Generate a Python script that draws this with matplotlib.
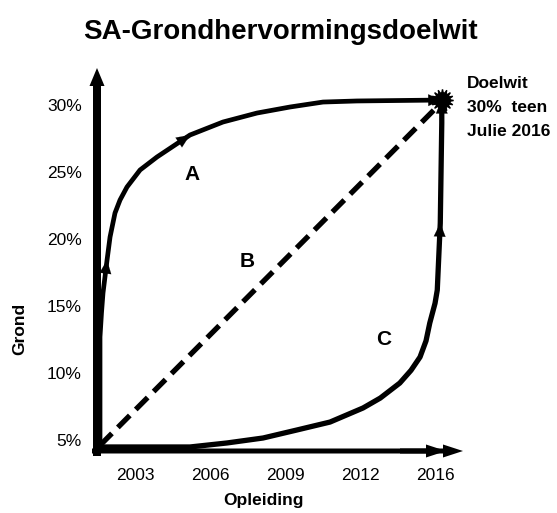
import matplotlib
matplotlib.use("Agg")
import matplotlib.pyplot as plt
from matplotlib.patches import FancyArrow
from matplotlib.transforms import IdentityTransform

plt.rcParams['font.family'] = ['Liberation Sans', 'DejaVu Sans']

# ---- data ----
x_tick_pos = [0, 1, 2, 3, 4]
x_tick_labels = ['2003', '2006', '2009', '2012', '2016']
y_tick_pos = [5, 10, 15, 20, 25, 30]
y_tick_labels = ['5%', '10%', '15%', '20%', '25%', '30%']

path_a_x = [-0.467, -0.467, -0.447, -0.427, -0.373, -0.333, -0.267, -0.2, -0.107, 0.067, 0.293,
            0.733, 1.173, 1.627, 2.067, 2.507, 2.96, 4.09]
path_a_y = [5.0, 12.69, 14.5, 15.97, 18.43, 20.15, 21.94, 22.91, 23.88, 25.15, 26.12,
            27.76, 28.73, 29.40, 29.85, 30.22, 30.30, 30.37]

path_b_x = [-0.467, 4.07]
path_b_y = [4.6, 30.1]

path_c_x = [-0.467, 0.733, 1.227, 1.707, 2.16, 2.6, 3.04, 3.27, 3.53, 3.68, 3.8, 3.88, 3.93,
            4.0, 4.03, 4.07, 4.09, 4.09]
path_c_y = [4.48, 4.48, 4.78, 5.15, 5.75, 6.34, 7.39, 8.13, 9.25, 10.2, 11.19, 12.4, 13.73,
            15.2, 16.19, 21.19, 28.66, 30.37]

target_x, target_y = 4.09, 30.37
labels = ['A', 'B', 'C']
label_x = [0.76, 1.49, 3.31]
label_y = [24.8, 18.3, 12.5]

# ---- figure ----
W, H = 557, 513
fig = plt.figure(figsize=(W / 100, H / 100), dpi=100)
ax = fig.add_axes([97 / W, (H - 451) / H, 366 / W, 383 / H])
ax.set_xlim(-0.507, 4.373)
ax.set_ylim(4.18, 32.76)
for s in ax.spines.values():
    s.set_visible(False)

ax.set_xticks(x_tick_pos)
ax.set_xticklabels(x_tick_labels, fontsize=12.5)
ax.set_yticks(y_tick_pos)
ax.set_yticklabels(y_tick_labels, fontsize=12.5)
ax.tick_params(axis='x', length=0, pad=12)
ax.tick_params(axis='y', length=0, pad=11)

# axis arrows (pixel geometry)
def parrow(x0, y0, x1, y1, width, hw, hl):
    fig.add_artist(FancyArrow(x0, H - y0, x1 - x0, -(y1 - y0), width=width,
                              head_width=hw, head_length=hl, length_includes_head=True,
                              color='black', lw=0, transform=IdentityTransform()))

parrow(97, 456, 97, 68, 8, 15, 18)
parrow(92, 451, 463, 451, 5, 13, 20)
parrow(400, 451, 446, 451, 5, 13, 20)

# paths
ax.plot(path_a_x, path_a_y, color='black', lw=3.4, solid_capstyle='round',
        solid_joinstyle='round', clip_on=False)
ax.plot(path_c_x, path_c_y, color='black', lw=3.8, solid_capstyle='round',
        solid_joinstyle='round', clip_on=False)
ax.plot(path_b_x, path_b_y, color='black', lw=3.8, linestyle=(0, (3.2, 1.6)), clip_on=False)

# small direction arrowheads along paths
def head(xs, ys, i):
    ax.annotate('', xy=(xs[i + 1], ys[i + 1]), xytext=(xs[i], ys[i]),
                arrowprops=dict(arrowstyle='-|>,head_length=0.8,head_width=0.35',
                                color='black', lw=0.1, shrinkA=0, shrinkB=0,
                                mutation_scale=12))

head(path_a_x, path_a_y, 3)
head(path_a_x, path_a_y, 10)
head(path_a_x, path_a_y, 16)
head(path_c_x, path_c_y, 14)
head(path_c_x, path_c_y, 16)

ax.plot([target_x], [target_y], marker=(16, 1, 0), ms=16, color='black',
        clip_on=False, zorder=5)
ax.plot([target_x], [target_y], marker='o', ms=11, color='black',
        clip_on=False, zorder=5)

for t, lx, ly in zip(labels, label_x, label_y):
    ax.text(lx, ly, t, fontsize=15, fontweight='bold', ha='center', va='center')

fig.text(467 / W, 1 - 76 / H, 'Doelwit\n30%  teen\nJulie 2016', fontsize=12.5,
         fontweight='bold', ha='left', va='top', linespacing=1.75)

fig.text(280 / W, 1 - 32 / H, 'SA-Grondhervormingsdoelwit', fontsize=20,
         fontweight='bold', ha='center', va='center')
fig.text(264 / W, 1 - 500 / H, 'Opleiding', fontsize=12.5, fontweight='bold',
         ha='center', va='center')
fig.text(20 / W, 1 - 329 / H, 'Grond', fontsize=12.5, fontweight='bold',
         ha='center', va='center', rotation=90)

fig.savefig('out.png', dpi=100)
